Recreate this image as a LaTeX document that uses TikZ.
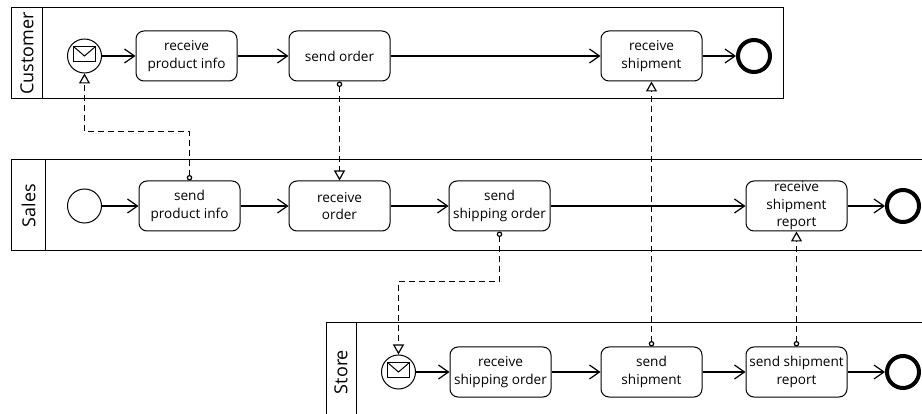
\documentclass[tikz,border=0pt]{standalone}
\usepackage{fontspec}
\setmainfont{Open Sans}
\usetikzlibrary{arrows.meta}

\tikzset{
  task/.style={draw, rounded corners=8pt, minimum width=101pt, minimum height=50pt, inner sep=0pt, align=center, line width=1pt, font=\fontsize{13.6}{17.6}\selectfont},
  startev/.style={draw, circle, minimum size=34pt, inner sep=0pt, line width=1pt},
  endev/.style={draw, circle, minimum size=32pt, inner sep=0pt, line width=4pt},
  lanename/.style={rotate=90, inner sep=0pt, font=\fontsize{18}{20}\selectfont},
  lane/.style={line width=1pt},
  seqflow/.style={-{Straight Barb[length=10pt, width=14pt, line width=1.2pt]}, line width=1.2pt},
  msgflow/.style={{Circle[open, length=5.5pt, width=5.5pt, fill=white]}-{Triangle[open, length=10pt, width=11pt, fill=white]}, dashed, dash pattern=on 6pt off 4pt, line width=1.2pt},
  envelope/.pic={
    \draw[line width=1pt] (-11,-9.5) rectangle (11,5.5);
    \draw[line width=1pt] (-11,-9.5) -- (0,0) -- (11,-9.5);
  }
}

\begin{document}
\begin{tikzpicture}[x=1pt, y=-1pt]
  \useasboundingbox (0,0) rectangle (922,414);

  % lanes
  \draw[lane] (11,8) rectangle (783,99);
  \draw[lane] (42,8) -- (42,99);
  \draw[lane] (922,160) -- (11,160) -- (11,251) -- (922,251);
  \draw[lane] (45,160) -- (45,251);
  \draw[lane] (922,323) -- (326,323) -- (326,414);
  \draw[lane] (356,323) -- (356,414);
  \node[lanename] (customer) at (27,53.5) {Customer};
  \node[lanename] (sales) at (28.5,205.5) {Sales};
  \node[lanename] (store) at (341,372) {Store};

  % customer
  \node[startev] (cstart) at (84.5,56) {};
  \pic at (cstart.center) {envelope};
  \node[task] (recvinfo) at (186.5,56) {receive\\product info};
  \node[task] (sendorder) at (339.5,56) {send order};
  \node[task] (recvship) at (651.5,56) {receive\\shipment};
  \node[endev] (cend) at (754,56) {};

  % sales
  \node[startev] (sstart) at (84.5,206) {};
  \node[task] (sendinfo) at (189.5,206) {send\\product info};
  \node[task] (recvorder) at (339.5,206) {receive\\order};
  \node[task] (sendshiporder) at (499.5,206) {send\\shipping order};
  \node[task] (recvreport) at (796.5,206) {receive\\shipment\\report};
  \node[endev] (send) at (903,206) {};

  % store
  \node[startev] (tstart) at (398.5,372) {};
  \pic at (tstart.center) {envelope};
  \node[task] (recvshiporder) at (500.5,372) {receive\\shipping order};
  \node[task] (sendship) at (651.5,372) {send\\shipment};
  \node[task] (sendreport) at (796.5,372) {send shipment\\report};
  \node[endev] (tend) at (903,372) {};

  % sequence flows
  \foreach \from/\to in {cstart/recvinfo, recvinfo/sendorder, sendorder/recvship, recvship/cend,
      sstart/sendinfo, sendinfo/recvorder, recvorder/sendshiporder, sendshiporder/recvreport, recvreport/send,
      tstart/recvshiporder, recvshiporder/sendship, sendship/sendreport, sendreport/tend}
    \draw[seqflow] (\from) -- (\to);

  % message flows
  \draw[msgflow] (sendinfo.north) -- ++(0,-49) -| (cstart.south);
  \draw[msgflow] (sendorder.south) -- (recvorder.north);
  \draw[msgflow] (sendshiporder.south) -- ++(0,50) -| (tstart.north);
  \draw[msgflow] (sendship.north) -- (recvship.south);
  \draw[msgflow] (sendreport.north) -- (recvreport.south);
\end{tikzpicture}
\end{document}
